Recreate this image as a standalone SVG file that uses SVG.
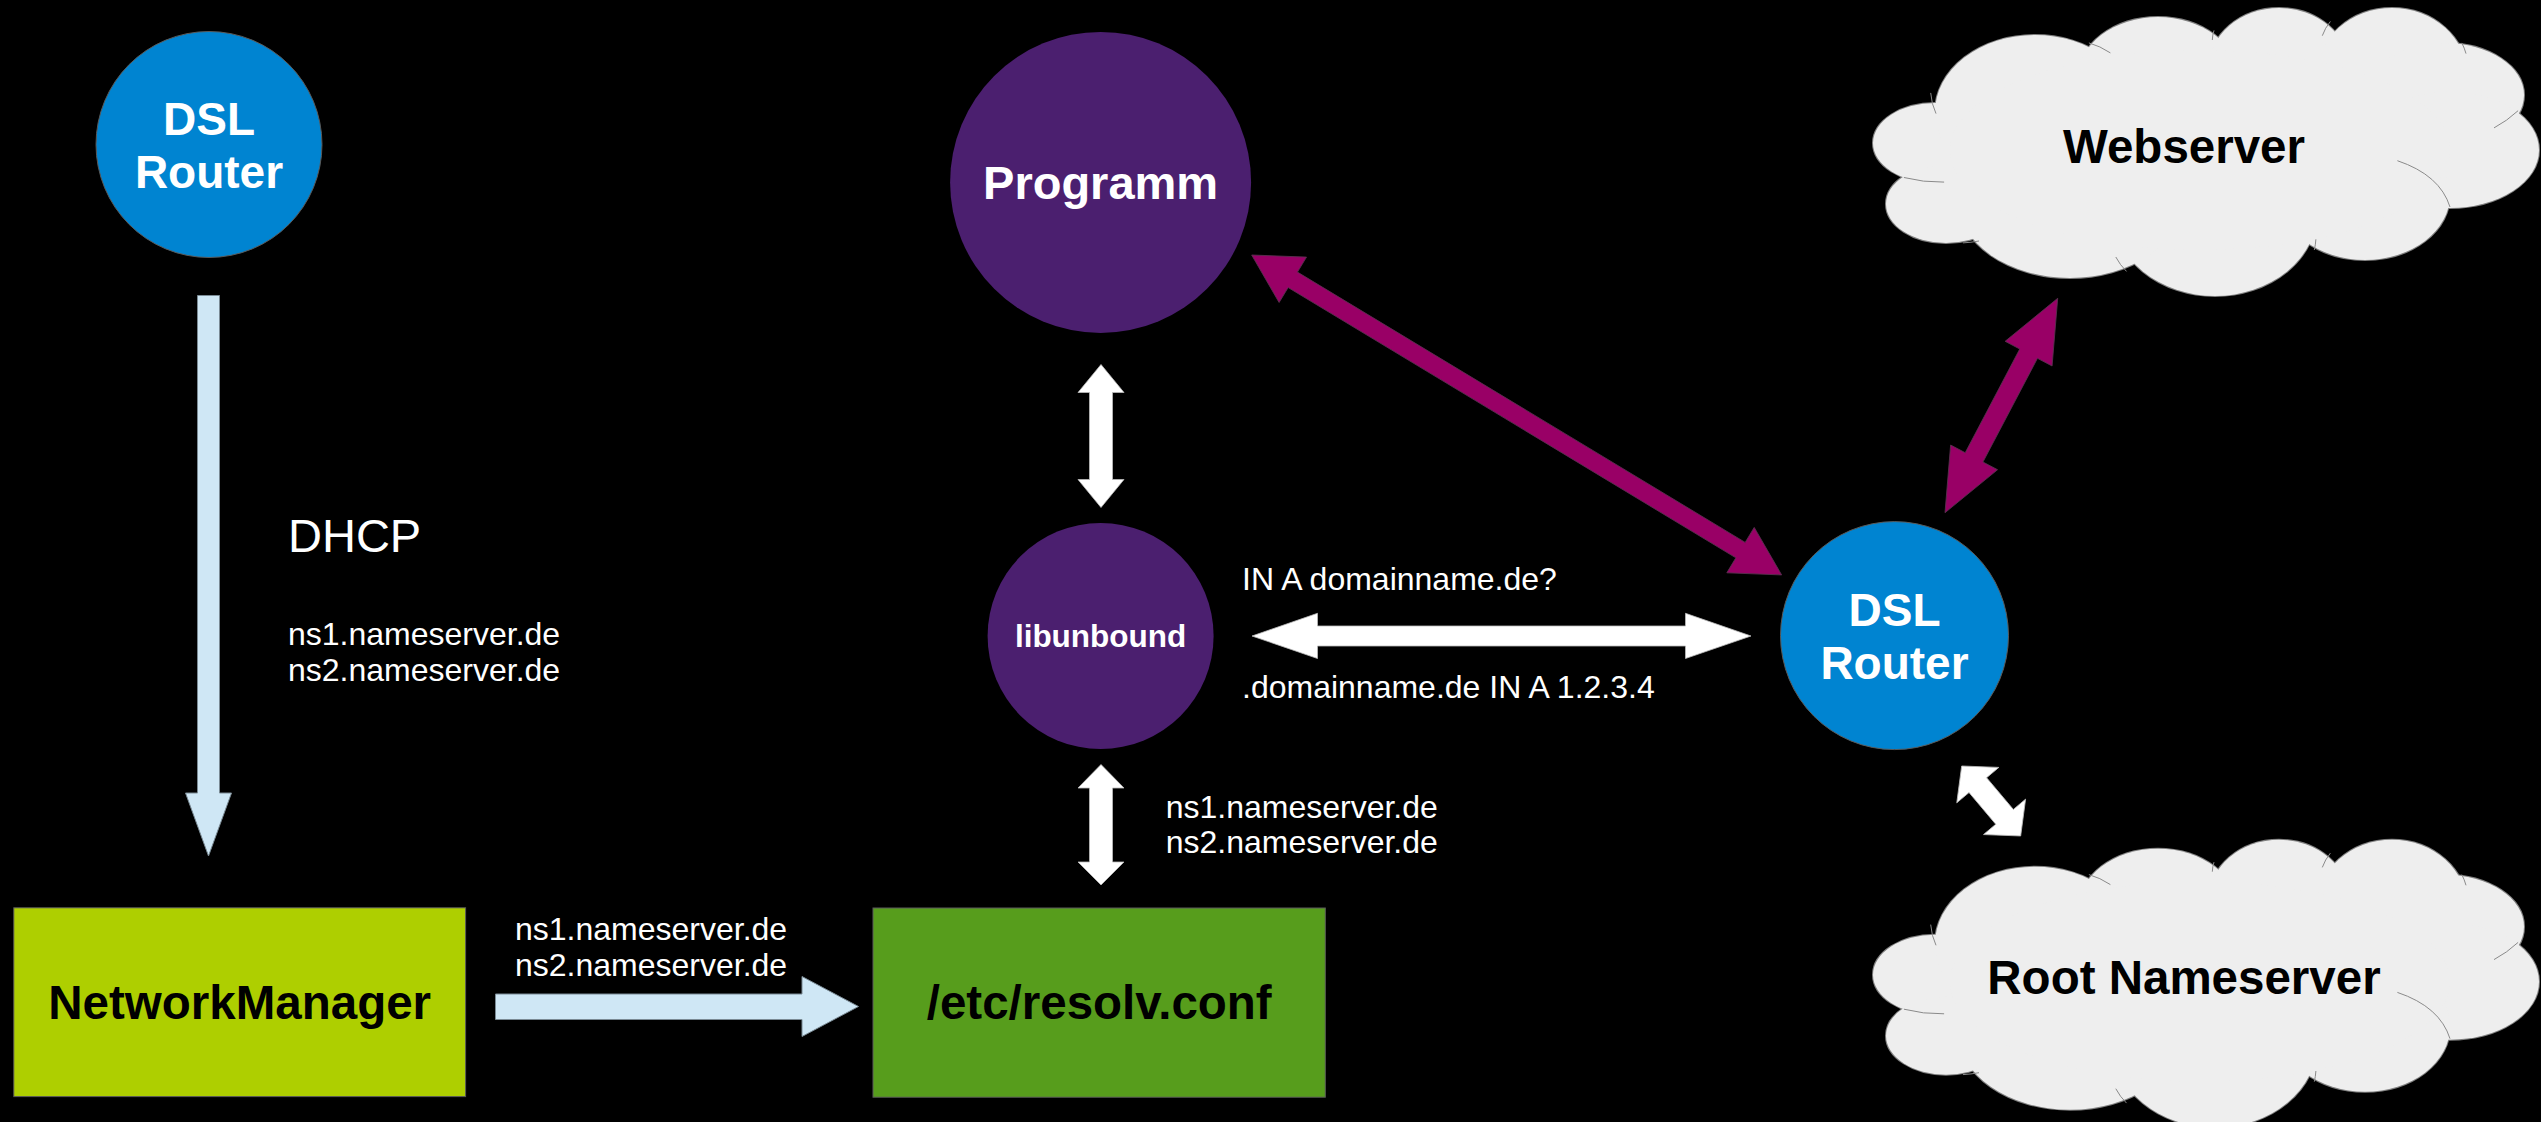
<svg xmlns="http://www.w3.org/2000/svg" xmlns:xlink="http://www.w3.org/1999/xlink" width="2541" height="1122" viewBox="0 0 2541 1122">
  <style>
    text { font-family: "Liberation Sans", Arial, sans-serif; }
    .bold { font-weight: bold; text-anchor: middle; }
    .w { fill: #ffffff; }
    .k { fill: #000000; }
    .lbl { fill: #ffffff; font-size: 32px; }
    .edge { stroke: #5a5a5a; stroke-width: 1; }
    .blue { fill: #0084d1; }
    .purple { fill: #4b1f6f; }
    .lightblue { fill: #cfe7f5; stroke: #7a8a94; stroke-width: 1; }
    .white { fill: #ffffff; stroke: #bbbbbb; stroke-width: 0.8; }
    .magenta { fill: #990066; stroke: #5a3050; stroke-width: 0.8; }
    .cloud-o { fill: #eeeeee; stroke: #7f7f7f; stroke-width: 2; }
    .cloud-f { fill: #eeeeee; stroke: none; }
    .cloud-i { fill: none; stroke: #8a8a8a; stroke-width: 1; }
  </style>
  <defs>
    <g id="cloud-shape">
      <g class="cloud-o">
        <ellipse cx="1935" cy="143" rx="62" ry="40"/>
        <ellipse cx="2035" cy="112" rx="100" ry="77"/>
        <ellipse cx="2158" cy="78" rx="80" ry="61"/>
        <ellipse cx="2279" cy="68" rx="70" ry="60"/>
        <ellipse cx="2392" cy="75" rx="75" ry="67"/>
        <ellipse cx="2445" cy="95" rx="79" ry="52"/>
        <ellipse cx="2450" cy="150" rx="89" ry="58"/>
        <ellipse cx="2365" cy="195" rx="85" ry="65"/>
        <ellipse cx="2215" cy="212" rx="102" ry="84"/>
        <ellipse cx="2070" cy="200" rx="112" ry="78"/>
        <ellipse cx="1946" cy="204" rx="60" ry="39"/>
      </g>
      <g class="cloud-f">
        <ellipse cx="1935" cy="143" rx="62" ry="40"/>
        <ellipse cx="2035" cy="112" rx="100" ry="77"/>
        <ellipse cx="2158" cy="78" rx="80" ry="61"/>
        <ellipse cx="2279" cy="68" rx="70" ry="60"/>
        <ellipse cx="2392" cy="75" rx="75" ry="67"/>
        <ellipse cx="2445" cy="95" rx="79" ry="52"/>
        <ellipse cx="2450" cy="150" rx="89" ry="58"/>
        <ellipse cx="2365" cy="195" rx="85" ry="65"/>
        <ellipse cx="2215" cy="212" rx="102" ry="84"/>
        <ellipse cx="2070" cy="200" rx="112" ry="78"/>
        <ellipse cx="1946" cy="204" rx="60" ry="39"/>
        <ellipse cx="2200" cy="150" rx="250" ry="100"/>
      </g>
      <g class="cloud-i">
        <path d="M1930.7,92.9 Q1931.5,104 1936,113.6"/>
        <path d="M2088.9,42.9 Q2100,46 2110.4,52.9"/>
        <path d="M2214,30.4 Q2212.5,35 2212.3,40"/>
        <path d="M2330.4,21.4 Q2325,28 2322.3,35.7"/>
        <path d="M2461.8,42.9 Q2464.5,48 2466,53.6"/>
        <path d="M2518.1,110.7 Q2507,121 2494,127.9"/>
        <path d="M2397.4,160.7 Q2440,175 2450,207"/>
        <path d="M2315.9,239.3 Q2315.5,245 2314.3,250"/>
        <path d="M2115.8,257 Q2120,265 2126.5,271.4"/>
        <path d="M1962.9,242.9 Q1971,242.5 1979,241"/>
        <path d="M1903.9,177.5 Q1923,182.5 1944.1,182.1"/>
      </g>
    </g>
  </defs>

  <rect x="0" y="0" width="2541" height="1122" fill="#000000"/>

  <g id="connectors">
    <!-- DSL Router (left) -> NetworkManager -->
    <polygon class="lightblue" points="197.5,295.5 219.5,295.5 219.5,793 231.5,793 208.5,856 185.5,793 197.5,793"/>
    <!-- NetworkManager -> resolv.conf -->
    <polygon class="lightblue" points="495.5,994 802,994 802,976.5 858.5,1006.5 802,1036.5 802,1019.5 495.5,1019.5"/>
    <!-- Programm <-> libunbound -->
    <polygon class="white" points="1101,364.5 1124,392.5 1112.5,392.5 1112.5,479.5 1124,479.5 1101,507.5 1078,479.5 1089.5,479.5 1089.5,392.5 1078,392.5"/>
    <!-- libunbound <-> resolv.conf -->
    <polygon class="white" points="1101,764.5 1124,788 1112.5,788 1112.5,862 1124,862 1101,885 1078,862 1089.5,862 1089.5,788 1078,788"/>
    <!-- libunbound <-> DSL Router -->
    <polygon class="white" points="1252,636 1317.5,613.3 1317.5,626 1685.5,626 1685.5,613.3 1751,636 1685.5,658.5 1685.5,646 1317.5,646 1317.5,658.5"/>
    <!-- Programm <-> DSL Router -->
    <polygon class="magenta" transform="translate(1251.7,255) rotate(31.12)" points="0,0 48,-26.5 48,-9 571,-9 571,-26.5 619,0 571,26.5 571,9 48,9 48,26.5"/>
    <!-- DSL Router <-> Webserver -->
    <polygon class="magenta" transform="translate(1945,512.7) rotate(-62.27)" points="0,0 62.5,-26.5 62.5,-10 179.7,-10 179.7,-26.5 242.2,0 179.7,26.5 179.7,10 62.5,10 62.5,26.5"/>
    <!-- DSL Router <-> Root Nameserver -->
    <polygon class="white" transform="translate(1961.7,766) rotate(49.88)" points="0,0 25,-27.5 25,-11.5 66.5,-11.5 66.5,-27.5 91.5,0 66.5,27.5 66.5,11.5 25,11.5 25,27.5"/>

    <!-- labels -->
    <text x="288" y="552" fill="#ffffff" font-size="47">DHCP</text>
    <text class="lbl" x="288" y="645.4">ns1.nameserver.de</text>
    <text class="lbl" x="288" y="680.8">ns2.nameserver.de</text>
    <text class="lbl" x="515" y="940">ns1.nameserver.de</text>
    <text class="lbl" x="515" y="975.5">ns2.nameserver.de</text>
    <text class="lbl" x="1165.7" y="818">ns1.nameserver.de</text>
    <text class="lbl" x="1165.7" y="852.8">ns2.nameserver.de</text>
    <text class="lbl" x="1242" y="590">IN A domainname.de?</text>
    <text class="lbl" x="1242" y="697.8">.domainname.de IN A 1.2.3.4</text>
  </g>

  <g id="dsl-router-left">
    <circle class="blue edge" cx="209" cy="144.5" r="113"/>
    <text class="bold w" x="209" y="135" font-size="46">DSL</text>
    <text class="bold w" x="209" y="188.3" font-size="46">Router</text>
  </g>

  <g id="programm">
    <circle class="purple" cx="1100.6" cy="182.4" r="150.5"/>
    <text class="bold w" x="1100.6" y="199" font-size="47">Programm</text>
  </g>

  <g id="libunbound">
    <circle class="purple" cx="1100.6" cy="636" r="113"/>
    <text class="bold w" x="1100.6" y="646.7" font-size="31.5">libunbound</text>
  </g>

  <g id="dsl-router-right">
    <circle class="blue edge" cx="1894.5" cy="635.6" r="114"/>
    <text class="bold w" x="1894.5" y="626.3" font-size="46">DSL</text>
    <text class="bold w" x="1894.5" y="679.4" font-size="46">Router</text>
  </g>

  <g id="networkmanager">
    <rect x="13.8" y="907.8" width="451.8" height="188.8" fill="#aecf00" class="edge"/>
    <text class="bold k" x="239.7" y="1019" font-size="47.5">NetworkManager</text>
  </g>

  <g id="resolv-conf">
    <rect x="873" y="908" width="452.3" height="189.2" fill="#579d1c" class="edge"/>
    <text class="bold k" x="1099.2" y="1019" font-size="47.5">/etc/resolv.conf</text>
  </g>

  <g id="webserver">
    <use xlink:href="#cloud-shape" href="#cloud-shape"/>
    <text class="bold k" x="2184" y="162.5" font-size="47.5">Webserver</text>
  </g>

  <g id="root-nameserver">
    <use xlink:href="#cloud-shape" href="#cloud-shape" transform="translate(0,831.7)"/>
    <text class="bold k" x="2184" y="993.7" font-size="47.5">Root Nameserver</text>
  </g>
</svg>
